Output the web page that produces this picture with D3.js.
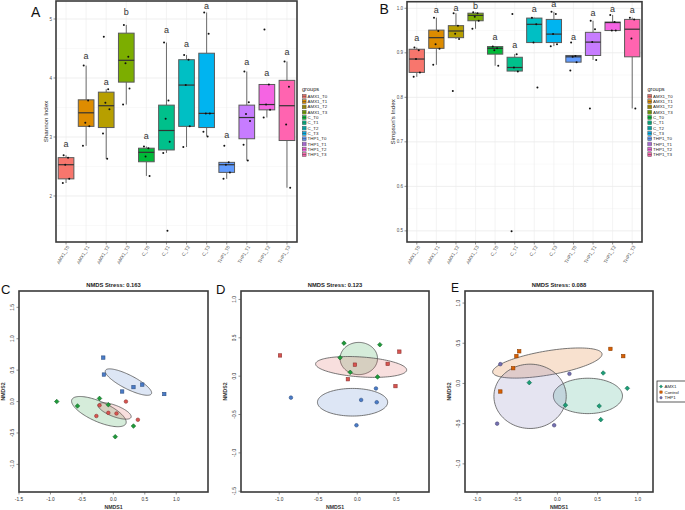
<!DOCTYPE html>
<html><head><meta charset="utf-8">
<script src="https://cdn.jsdelivr.net/npm/d3@7"></script>
<style>body{margin:0;background:#fff}svg{display:block;font-family:"Liberation Sans",Arial,sans-serif}</style>
</head><body><svg id="c" width="685" height="510"></svg>
<script>
// ---------- DATA ----------
const groups = ["AMX1_T0","AMX1_T1","AMX1_T2","AMX1_T3","C_T0","C_T1","C_T2","C_T3","THP1_T0","THP1_T1","THP1_T2","THP1_T3"];
const groupColors = ["#F8766D","#DE8C00","#B79F00","#7CAE00","#00BA38","#00C08B","#00BFC4","#00B4F0","#619CFF","#C77CFF","#F564E3","#FF64B0"];

const shannonQ1     = [2.29,3.18,3.16,3.93,2.58,2.78,3.18,3.16,2.40,2.97,3.46,2.94];
const shannonMedian = [2.53,3.41,3.53,4.30,2.74,3.11,3.88,3.40,2.53,3.33,3.55,3.53];
const shannonQ3     = [2.65,3.63,3.76,4.76,2.81,3.54,4.31,4.42,2.57,3.54,3.89,3.96];
const shannonLow    = [2.22,2.85,2.63,3.55,2.34,2.73,2.83,3.01,2.29,2.60,3.33,2.14];
const shannonHigh   = [2.69,4.21,3.81,4.90,2.84,4.60,4.39,5.11,2.57,4.11,3.89,4.28];
const shannonPoints = [
  [2.69,2.65,2.53,2.29,2.22],
  [4.21,3.62,3.24,3.18,2.85],
  [4.70,3.81,3.58,3.47,3.06,2.63],
  [4.90,4.36,4.25,3.82,3.55],
  [2.84,2.81,2.67,2.34],
  [4.60,3.62,3.31,2.92,2.73,1.41],
  [4.39,4.31,3.88,3.18,2.83],
  [5.11,4.75,3.40,3.40,3.09,3.01],
  [2.85,2.57,2.53,2.40,2.29],
  [4.11,3.59,3.39,3.27,2.87,2.60],
  [4.82,3.89,3.55,3.46,3.33],
  [4.28,3.85,3.21,2.14]
];
const shannonLetters = ["a","a","a","b","a","a","a","a","a","a","a","a"];
const shannonLetterY = [2.88,4.38,3.94,5.12,3.02,4.81,4.58,5.22,3.03,4.27,4.08,4.44];
const shannonTicks = [2,3,4,5];
const shannonMinor = [1.5,2.5,3.5,4.5];

const simpsonQ1     = [0.856,0.910,0.934,0.972,0.897,0.859,0.923,0.923,0.879,0.894,0.950,0.891];
const simpsonMedian = [0.886,0.934,0.949,0.984,0.910,0.867,0.964,0.942,0.891,0.924,0.968,0.953];
const simpsonQ3     = [0.908,0.951,0.961,0.989,0.914,0.890,0.978,0.975,0.894,0.946,0.969,0.975];
const simpsonLow    = [0.846,0.873,0.931,0.954,0.871,0.858,0.923,0.915,0.879,0.884,0.950,0.775];
const simpsonHigh   = [0.912,0.979,0.989,0.991,0.914,0.897,0.979,0.992,0.894,0.972,0.985,0.979];
const simpsonPoints = [
  [0.912,0.906,0.886,0.856,0.846],
  [0.979,0.949,0.919,0.909,0.873],
  [0.989,0.961,0.943,0.931,0.814],
  [0.991,0.989,0.981,0.972,0.954],
  [0.914,0.910,0.906,0.871],
  [0.987,0.897,0.867,0.858,0.499],
  [0.979,0.964,0.923,0.822],
  [0.992,0.987,0.942,0.919,0.915],
  [0.923,0.893,0.891,0.879,0.860],
  [0.972,0.953,0.924,0.884,0.775],
  [0.985,0.969,0.950,0.950],
  [0.979,0.975,0.932,0.775]
];
const simpsonLetters = ["a","a","a","b","a","a","a","a","a","a","a","a"];
const simpsonLetterY = [0.934,0.996,1.0,1.005,0.936,0.918,0.998,1.011,0.935,0.989,0.999,0.996];
const simpsonTicks = [0.5,0.6,0.7,0.8,0.9,1.0];
const simpsonMinor = [0.55,0.65,0.75,0.85,0.95];

// NMDS
const nmdsGroups = ["AMX1","Control","THP1"];
const stressC = "NMDS Stress: 0.163", stressD = "NMDS Stress: 0.123", stressE = "NMDS Stress: 0.088";
const cAMX1    = [[-0.90,0.00],[-0.57,-0.07],[-0.22,0.05],[-0.08,-0.05],[0.32,-0.39],[0.03,-0.56]];
const cControl = [[-0.22,-0.06],[0.20,0.00],[-0.08,-0.18],[0.05,-0.19],[-0.27,-0.23],[0.39,-0.29]];
const cTHP1    = [[-0.16,0.70],[-0.15,0.43],[0.14,0.16],[0.32,0.23],[0.46,0.27],[0.81,0.12]];
// ellipse: [centerX, centerY, semiMajor, semiMinor, angleDeg]
const cEllipses = [[-0.23,-0.16,0.47,0.16,-24],[0.02,-0.15,0.28,0.09,-21],[0.24,0.31,0.41,0.11,-27]];

const dAMX1    = [[-0.17,0.43],[0.29,0.41],[-0.22,0.24],[-0.09,0.05],[0.26,-0.01]];
const dControl = [[-0.99,0.27],[-0.03,0.15],[0.39,0.16],[0.54,0.32],[-0.12,-0.04],[0.49,-0.13]];
const dTHP1    = [[-0.85,-0.28],[0.05,-0.31],[0.24,-0.16],[0.25,-0.34],[-0.01,-0.64]];
const dEllipses = [[0.02,0.23,0.24,0.21,0],[0.05,0.12,0.585,0.13,-4],[-0.06,-0.34,0.45,0.18,0]];

const eAMX1    = [[-0.35,0.01],[0.57,0.13],[0.87,-0.06],[0.10,-0.27],[0.52,-0.28],[0.54,-0.45]];
const eControl = [[-0.475,0.40],[-0.51,0.34],[-0.55,0.19],[-0.71,-0.10],[0.66,0.43],[0.82,0.34]];
const eTHP1    = [[-0.71,0.24],[0.15,0.12],[-0.75,-0.50],[-0.04,-0.52]];
const eEllipses = [[0.38,-0.155,0.43,0.22,0],[-0.125,0.254,0.69,0.15,9.6],[-0.34,-0.16,0.45,0.40,0]];

const colorsCD = ["#1E9A3A","#D9534F","#4A7CC9"];
const colorsE  = ["#1B9E77","#D95F02","#7570B3"];

// ---------- DRAW ----------
const svg = d3.select("#c");

function boxPanel(o){
  const g = svg.append("g");
  const x = d3.scalePoint().domain(groups).range([o.x0,o.x1]).padding(0.5);
  const y = d3.scaleLinear().domain(o.ydom).range([o.y1,o.y0]);
  const step = x.step();
  g.selectAll(".mi").data(o.minor).join("line")
    .attr("x1",o.x0).attr("x2",o.x1).attr("y1",d=>y(d)).attr("y2",d=>y(d))
    .attr("stroke","#f2f2f2").attr("stroke-width",0.5);
  g.selectAll(".ma").data(o.ticks).join("line")
    .attr("x1",o.x0).attr("x2",o.x1).attr("y1",d=>y(d)).attr("y2",d=>y(d))
    .attr("stroke","#e6e6e6").attr("stroke-width",0.7);
  g.selectAll(".vx").data(groups).join("line")
    .attr("x1",d=>x(d)).attr("x2",d=>x(d)).attr("y1",o.y0).attr("y2",o.y1)
    .attr("stroke","#ececec").attr("stroke-width",0.6);
  const bw = step*0.78;
  groups.forEach((gname,i)=>{
    const cx = x(gname);
    g.append("line").attr("x1",cx).attr("x2",cx).attr("y1",y(o.high[i])).attr("y2",y(o.q3[i]))
      .attr("stroke","#6b6b6b").attr("stroke-width",1);
    g.append("line").attr("x1",cx).attr("x2",cx).attr("y1",y(o.q1[i])).attr("y2",y(o.low[i]))
      .attr("stroke","#6b6b6b").attr("stroke-width",1);
    g.append("rect").attr("x",cx-bw/2).attr("width",bw)
      .attr("y",y(o.q3[i])).attr("height",Math.max(0.5,y(o.q1[i])-y(o.q3[i])))
      .attr("fill",groupColors[i]).attr("stroke","#5a5a5a").attr("stroke-width",1);
    g.append("line").attr("x1",cx-bw/2).attr("x2",cx+bw/2).attr("y1",y(o.med[i])).attr("y2",y(o.med[i]))
      .attr("stroke","#333").attr("stroke-width",1.2);
    const jit = [-0.12,0.1,-0.04,0.16,-0.16,0.05,0.0];
    o.pts[i].forEach((v,j)=>{
      g.append("circle").attr("cx",cx+jit[j%jit.length]*step).attr("cy",y(v)).attr("r",1)
        .attr("fill","#111");
    });
    g.append("text").attr("x",cx).attr("y",y(o.letterY[i])).attr("dy","0.35em")
      .attr("text-anchor","middle").attr("font-size",9).attr("fill","#333").text(o.letters[i]);
  });
  g.append("rect").attr("x",o.x0).attr("y",o.y0).attr("width",o.x1-o.x0).attr("height",o.y1-o.y0)
    .attr("fill","none").attr("stroke","#3a3a3a").attr("stroke-width",1.6);
  g.selectAll(".yt").data(o.ticks).join("line")
    .attr("x1",o.x0-2.5).attr("x2",o.x0).attr("y1",d=>y(d)).attr("y2",d=>y(d)).attr("stroke","#444").attr("stroke-width",0.6);
  g.selectAll(".yl").data(o.ticks).join("text")
    .attr("x",o.x0-4).attr("y",d=>y(d)).attr("dy","0.35em").attr("text-anchor","end")
    .attr("font-size",4.5).attr("fill","#4d4d4d").text(d=>o.fmt(d));
  groups.forEach(gname=>{
    g.append("line").attr("x1",x(gname)).attr("x2",x(gname)).attr("y1",o.y1).attr("y2",o.y1+2.5)
      .attr("stroke","#444").attr("stroke-width",0.6);
    g.append("text").attr("transform",`translate(${x(gname)+2},${o.y1+4}) rotate(-60)`)
      .attr("text-anchor","end").attr("dy","0.35em").attr("font-size",4.6).attr("fill","#4d4d4d").text(gname);
  });
  g.append("text").attr("transform",`translate(${o.ytx},${(o.y0+o.y1)/2}) rotate(-90)`)
    .attr("text-anchor","middle").attr("font-size",6.2).attr("fill","#222").text(o.ytitle);
  const lg = g.append("g").attr("transform",`translate(${o.lx},${o.ly})`);
  lg.append("text").attr("x",0).attr("y",0).attr("font-size",5.6).attr("fill","#222").text("groups");
  groups.forEach((gname,i)=>{
    const yy = 5.3 + i*5.3;
    lg.append("rect").attr("x",0.3).attr("y",yy-1.9).attr("width",3.8).attr("height",3.8)
      .attr("fill",groupColors[i]).attr("stroke","#555").attr("stroke-width",0.5);
    lg.append("line").attr("x1",0.3).attr("x2",4.1).attr("y1",yy).attr("y2",yy).attr("stroke","#333").attr("stroke-width",0.5);
    lg.append("text").attr("x",5.6).attr("y",yy).attr("dy","0.35em").attr("font-size",4.4).attr("fill","#222").text(gname);
  });
}

boxPanel({x0:56,x1:297,y0:1,y1:242,ydom:[1.22,5.305],ticks:shannonTicks,minor:shannonMinor,
  q1:shannonQ1,med:shannonMedian,q3:shannonQ3,low:shannonLow,high:shannonHigh,pts:shannonPoints,
  letters:shannonLetters,letterY:shannonLetterY,fmt:d3.format("d"),ytitle:"Shannon Index",ytx:48,lx:302,ly:91});
boxPanel({x0:407,x1:642,y0:1.7,y1:242,ydom:[0.475,1.0148],ticks:simpsonTicks,minor:simpsonMinor,
  q1:simpsonQ1,med:simpsonMedian,q3:simpsonQ3,low:simpsonLow,high:simpsonHigh,pts:simpsonPoints,
  letters:simpsonLetters,letterY:simpsonLetterY,fmt:d3.format(".1f"),ytitle:"Simpson's Index",ytx:395,lx:647.5,ly:91});

svg.append("text").attr("x",31).attr("y",16.5).attr("font-size",14).attr("fill","#111").text("A");
svg.append("text").attr("x",379.5).attr("y",13.5).attr("font-size",14).attr("fill","#111").text("B");

function symbol(g, shape, cx, cy, color){
  const stroke = d3.color(color).darker(1.2);
  if(shape==="square"){
    g.append("rect").attr("x",cx-1.7).attr("y",cy-1.7).attr("width",3.4).attr("height",3.4)
      .attr("fill",color).attr("stroke",stroke).attr("stroke-width",0.6);
  } else if(shape==="circle"){
    g.append("circle").attr("cx",cx).attr("cy",cy).attr("r",1.8)
      .attr("fill",color).attr("stroke",stroke).attr("stroke-width",0.6);
  } else {
    g.append("path").attr("d",`M${cx},${cy-2.3}L${cx+2.3},${cy}L${cx},${cy+2.3}L${cx-2.3},${cy}Z`)
      .attr("fill",color).attr("stroke",stroke).attr("stroke-width",0.6);
  }
}

function nmdsPanel(o){
  const g = svg.append("g");
  const x = d3.scaleLinear().domain(o.xdom).range([o.x0,o.x1]);
  const y = d3.scaleLinear().domain(o.ydom).range([o.y1,o.y0]);
  const line = d3.line().x(d=>x(d[0])).y(d=>y(d[1])).curve(d3.curveLinearClosed);
  o.ellipses.forEach((e,k)=>{
    const [cx,cy,a,b,ang] = e; const th = ang*Math.PI/180;
    const pts = d3.range(0,120).map(i=>{
      const t = i/120*2*Math.PI;
      return [cx + a*Math.cos(t)*Math.cos(th) - b*Math.sin(t)*Math.sin(th),
              cy + a*Math.cos(t)*Math.sin(th) + b*Math.sin(t)*Math.cos(th)];
    });
    g.append("path").attr("d",line(pts)).attr("fill",o.colors[k]).attr("fill-opacity",0.19)
      .attr("stroke","#555").attr("stroke-width",0.8);
  });
  o.points.forEach((arr,k)=>{
    arr.forEach(p=>symbol(g,o.shapes[k],x(p[0]),y(p[1]),o.colors[k]));
  });
  g.append("rect").attr("x",o.x0).attr("y",o.y0).attr("width",o.x1-o.x0).attr("height",o.y1-o.y0)
    .attr("fill","none").attr("stroke","#3a3a3a").attr("stroke-width",1.6);
  o.xticks.forEach(t=>{
    g.append("line").attr("x1",x(t)).attr("x2",x(t)).attr("y1",o.y1).attr("y2",o.y1+2.5).attr("stroke","#444").attr("stroke-width",0.6);
    g.append("text").attr("x",x(t)).attr("y",o.y1+8.5).attr("text-anchor","middle").attr("font-size",4.8).attr("fill","#333").text(d3.format(".1f")(t).replace("−","-"));
  });
  o.yticks.forEach(t=>{
    g.append("line").attr("x1",o.x0-2.5).attr("x2",o.x0).attr("y1",y(t)).attr("y2",y(t)).attr("stroke","#444").attr("stroke-width",0.6);
    g.append("text").attr("transform",`translate(${o.x0-5.5},${y(t)}) rotate(-90)`).attr("text-anchor","middle")
      .attr("font-size",4.8).attr("fill","#333").text(d3.format(".1f")(t).replace("−","-"));
  });
  g.append("text").attr("x",(o.x0+o.x1)/2).attr("y",o.y1+16.5).attr("text-anchor","middle")
    .attr("font-size",5.2).attr("font-weight","bold").attr("fill","#333").text("NMDS1");
  g.append("text").attr("transform",`translate(${o.x0-14.5},${(o.y0+o.y1)/2}) rotate(-90)`).attr("text-anchor","middle")
    .attr("font-size",5.2).attr("font-weight","bold").attr("fill","#333").text("NMDS2");
  g.append("text").attr("x",(o.x0+o.x1)/2).attr("y",o.y0-4).attr("text-anchor","middle")
    .attr("font-size",5.8).attr("font-weight","bold").attr("fill","#222").text(o.title);
  svg.append("text").attr("x",o.lblx).attr("y",o.lbly).attr("font-size",o.lblsize).attr("fill","#111").text(o.label);
}

nmdsPanel({x0:19,x1:208,y0:291,y1:492,xdom:[-1.5,1.505],ydom:[-1.44,1.76],
  ellipses:cEllipses,points:[cAMX1,cControl,cTHP1],shapes:["diamond","circle","square"],colors:colorsCD,
  xticks:[-1.5,-1,-0.5,0,0.5,1],yticks:[-1,-0.5,0,0.5,1,1.5],title:stressC,label:"C",lblx:1,lbly:293.5,lblsize:13});
nmdsPanel({x0:241,x1:429,y0:291,y1:492,xdom:[-1.49,0.92],ydom:[-1.51,1.11],
  ellipses:dEllipses,points:[dAMX1,dControl,dTHP1],shapes:["diamond","square","circle"],colors:colorsCD,
  xticks:[-1,-0.5,0,0.5],yticks:[-1.5,-1,-0.5,0,0.5,1],title:stressD,label:"D",lblx:216,lbly:293.5,lblsize:13});
nmdsPanel({x0:465,x1:653,y0:291,y1:492,xdom:[-1.15,1.19],ydom:[-1.35,1.15],
  ellipses:eEllipses,points:[eAMX1,eControl,eTHP1],shapes:["diamond","square","circle"],colors:colorsE,
  xticks:[-1,-0.5,0,0.5,1],yticks:[-1,-0.5,0,0.5,1],title:stressE,label:"E",lblx:451,lbly:292,lblsize:12});

// E legend
const el = svg.append("g");
el.append("rect").attr("x",657).attr("y",381).attr("width",34).attr("height",21)
  .attr("fill","#fff").attr("stroke","#333").attr("stroke-width",0.8);
const eShapes = ["diamond","square","circle"];
nmdsGroups.forEach((n,i)=>{
  const yy = 386.5 + i*5.6;
  const gg = el.append("g").attr("transform",`translate(${661},${yy}) scale(0.7) translate(${-661},${-yy})`);
  symbol(gg,eShapes[i],661,yy,colorsE[i]);
  el.append("text").attr("x",664.5).attr("y",yy).attr("dy","0.35em").attr("font-size",4.4).attr("fill","#222").text(n);
});
</script></body></html>
